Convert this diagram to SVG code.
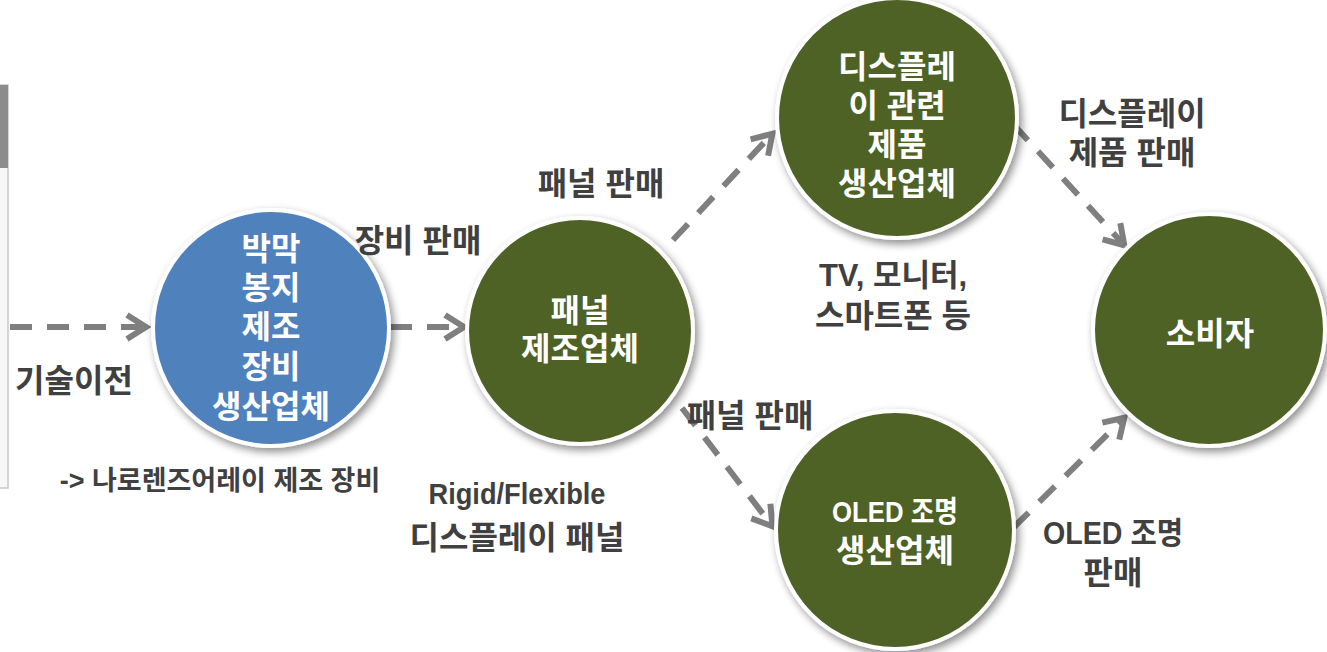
<svg xmlns="http://www.w3.org/2000/svg" width="1327" height="652" viewBox="0 0 1327 652">
<style>
.lbl{font-family:"Liberation Sans","Noto Sans CJK KR",sans-serif;font-weight:700;font-size:32px;fill:#404040;text-anchor:middle}
.in{font-family:"Liberation Sans","Noto Sans CJK KR",sans-serif;font-weight:700;font-size:32px;fill:#ffffff;text-anchor:middle}
.conn{fill:none;stroke:#7f7f7f;stroke-width:6;stroke-dasharray:22 15;marker-end:url(#ch)}
.node{stroke:#ffffff;stroke-width:4;filter:url(#sh)}
</style>
<defs>
<marker id="ch" markerUnits="userSpaceOnUse" markerWidth="40" markerHeight="40" viewBox="0 0 40 40" refX="32" refY="20" orient="auto">
<path d="M12,8 L31,20 L12,32" fill="none" stroke="#7f7f7f" stroke-width="6" stroke-dasharray="none"/>
</marker>
<filter id="sh" x="-20%" y="-20%" width="140%" height="140%">
<feGaussianBlur in="SourceAlpha" stdDeviation="4"/>
<feOffset dx="3" dy="4" result="b"/>
<feComponentTransfer><feFuncA type="linear" slope="0.45"/></feComponentTransfer>
<feMerge><feMergeNode/><feMergeNode in="SourceGraphic"/></feMerge>
</filter>
</defs>
<rect width="1327" height="652" fill="#ffffff"/>
<g id="leftpanel">
<rect x="-2" y="85" width="10" height="403" fill="#f7f7f7" stroke="#c8c8c8" stroke-width="1.5"/>
<rect x="-2" y="85" width="10" height="83" fill="#8c8c8c"/>
</g>
<g id="connectors">
<line class="conn" x1="10" y1="327" x2="147" y2="327"/>
<line class="conn" x1="390" y1="327" x2="465" y2="327"/>
<line class="conn" x1="673" y1="240" x2="773" y2="133"/>
<line class="conn" x1="682" y1="408" x2="773" y2="527"/>
<line class="conn" x1="1013" y1="124" x2="1125" y2="246"/>
<line class="conn" x1="1013" y1="528" x2="1125" y2="417"/>
</g>
<g id="node-equip">
<circle class="node" cx="271" cy="328" r="118" fill="#4f81bd"/>
<text class="in" x="271" y="260"><tspan x="271">박막</tspan><tspan x="271" dy="39">봉지</tspan><tspan x="271" dy="39">제조</tspan><tspan x="271" dy="40">장비</tspan><tspan x="271" dy="40">생산업체</tspan></text>
</g>
<g id="node-panel">
<circle class="node" cx="580" cy="331" r="113" fill="#4f6228"/>
<text class="in" x="580" y="322"><tspan x="580">패널</tspan><tspan x="580" dy="38">제조업체</tspan></text>
</g>
<g id="node-display">
<circle class="node" cx="897" cy="118" r="120" fill="#4f6228"/>
<text class="in" x="897" y="78"><tspan x="897">디스플레</tspan><tspan x="897" dy="39">이 관련</tspan><tspan x="897" dy="39">제품</tspan><tspan x="897" dy="39">생산업체</tspan></text>
</g>
<g id="node-oled">
<circle class="node" cx="895" cy="530" r="119" fill="#4f6228"/>
<text class="in" x="895" y="522"><tspan x="895" style="font-size:30px" textLength="126" lengthAdjust="spacingAndGlyphs">OLED 조명</tspan><tspan x="895" dy="40">생산업체</tspan></text>
</g>
<g id="node-consumer">
<circle class="node" cx="1209" cy="330" r="116" fill="#4f6228"/>
<text class="in" x="1210" y="345">소비자</text>
</g>
<g id="labels">
<text class="lbl" x="74" y="392">기술이전</text>
<text class="lbl" x="220" y="490" style="font-size:27px">-&gt; 나로렌즈어레이 제조 장비</text>
<text class="lbl" x="418" y="252">장비 판매</text>
<text class="lbl" x="601" y="195">패널 판매</text>
<text class="lbl" x="750" y="427">패널 판매</text>
<text class="lbl" x="517" y="504"><tspan x="517" style="font-size:29px" textLength="177" lengthAdjust="spacingAndGlyphs">Rigid/Flexible</tspan><tspan x="517" dy="45">디스플레이 패널</tspan></text>
<text class="lbl" x="893" y="286"><tspan x="893" style="font-size:31px">TV, 모니터,</tspan><tspan x="893" dy="41">스마트폰 등</tspan></text>
<text class="lbl" x="1132" y="125"><tspan x="1132">디스플레이</tspan><tspan x="1132" dy="39">제품 판매</tspan></text>
<text class="lbl" x="1113" y="544"><tspan x="1113" style="font-size:31px" textLength="140" lengthAdjust="spacingAndGlyphs">OLED 조명</tspan><tspan x="1113" dy="40">판매</tspan></text>
</g>
</svg>
